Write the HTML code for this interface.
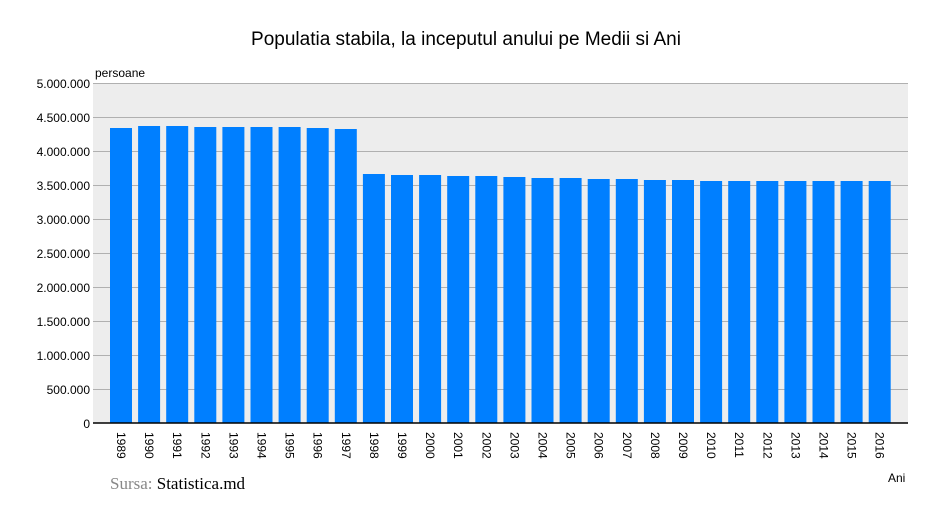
<!DOCTYPE html>
<html><head><meta charset="utf-8"><style>body{margin:0;background:#fff}svg{display:block}</style></head><body>
<svg width="933" height="521" xmlns="http://www.w3.org/2000/svg" font-family="Liberation Sans, Arial, sans-serif">
<rect x="0" y="0" width="933" height="521" fill="#fff"/>
<text x="466" y="45" font-size="19" text-anchor="middle" fill="#000">Populatia stabila, la inceputul anului pe Medii si Ani</text>
<rect x="93" y="83" width="815" height="340" fill="#ededed"/>
<g stroke="#b0b0b0" stroke-width="1">
<line x1="93" x2="908" y1="83.5" y2="83.5"/><line x1="93" x2="908" y1="117.5" y2="117.5"/>
<line x1="93" x2="908" y1="151.5" y2="151.5"/><line x1="93" x2="908" y1="185.5" y2="185.5"/>
<line x1="93" x2="908" y1="219.5" y2="219.5"/><line x1="93" x2="908" y1="253.5" y2="253.5"/>
<line x1="93" x2="908" y1="287.5" y2="287.5"/><line x1="93" x2="908" y1="321.5" y2="321.5"/>
<line x1="93" x2="908" y1="355.5" y2="355.5"/><line x1="93" x2="908" y1="389.5" y2="389.5"/>
</g>
<g font-size="12" text-anchor="end" fill="#000">
<text x="90" y="88">5.000.000</text><text x="90" y="122">4.500.000</text><text x="90" y="156">4.000.000</text>
<text x="90" y="190">3.500.000</text><text x="90" y="224">3.000.000</text><text x="90" y="258">2.500.000</text>
<text x="90" y="292">2.000.000</text><text x="90" y="326">1.500.000</text><text x="90" y="360">1.000.000</text>
<text x="90" y="394">500.000</text><text x="90" y="428">0</text>
</g>
<text x="95" y="77" font-size="12">persoane</text>
<g fill="#007fff" id="bars"></g>
<line x1="93" x2="908" y1="423" y2="423" stroke="#000" stroke-width="1.5"/>
<g id="labels" font-size="12"></g>
<text x="110" y="489" font-family="Liberation Serif, serif" font-size="17" fill="#888">Sursa: <tspan fill="#000">Statistica.md</tspan></text>
<text x="888" y="482" font-size="12">Ani</text>
<script>
var tops=[128,126,126,127,127,127,127,128,129,174,175,175,176,176,177,178,178,179,179,180,180,181,181,181,181,181,181,181];
var b=document.getElementById('bars'),l=document.getElementById('labels'),ns='http://www.w3.org/2000/svg';
for(var i=0;i<28;i++){var x=110+i*28.1;var r=document.createElementNS(ns,'rect');r.setAttribute('x',x.toFixed(1));r.setAttribute('y',tops[i]);r.setAttribute('width',22);r.setAttribute('height',423-tops[i]);b.appendChild(r);
var t=document.createElementNS(ns,'text');var cx=x+11-4;t.setAttribute('transform','translate('+cx.toFixed(1)+',432) rotate(90)');t.textContent=1989+i;l.appendChild(t);}
</script>
</svg>
</body></html>
